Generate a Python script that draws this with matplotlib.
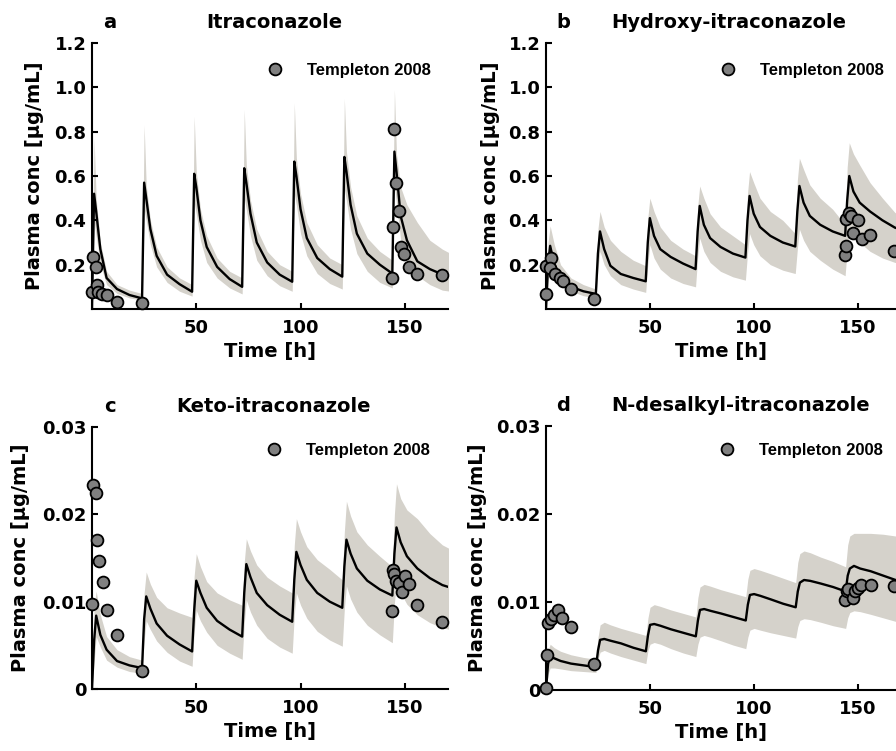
import matplotlib
matplotlib.use("Agg")
import matplotlib.pyplot as plt

plt.rcParams["font.family"] = ["DejaVu Sans"]
plt.rcParams["font.weight"] = "bold"
plt.rcParams["axes.labelweight"] = "bold"

# simulated time grid [h], dosing every 24 h
t_sim = [0, 1, 2, 4, 7, 12, 18,
         24, 25, 26, 28, 31, 36, 42,
         48, 49, 50, 52, 55, 60, 66,
         72, 73, 74, 76, 79, 84, 90,
         96, 97, 98, 100, 103, 108, 114,
         120, 121, 122, 124, 127, 132, 138,
         144, 145, 146, 148, 151, 156, 162, 168, 172]

# a: itraconazole
itra_mean = [0, 0.52, 0.44, 0.27, 0.14, 0.09, 0.063,
             0.048, 0.57, 0.50, 0.36, 0.24, 0.155, 0.112,
             0.078, 0.61, 0.55, 0.40, 0.28, 0.19, 0.135,
             0.10, 0.635, 0.57, 0.43, 0.30, 0.21, 0.155,
             0.123, 0.665, 0.60, 0.45, 0.32, 0.23, 0.18,
             0.146, 0.686, 0.62, 0.47, 0.34, 0.25, 0.20,
             0.16, 0.71, 0.62, 0.42, 0.31, 0.215, 0.18, 0.156, 0.145]
itra_upper = [0, 0.77, 0.50, 0.30, 0.17, 0.11, 0.085,
              0.07, 0.83, 0.56, 0.40, 0.28, 0.19, 0.14,
              0.11, 0.87, 0.62, 0.45, 0.33, 0.23, 0.17,
              0.14, 0.90, 0.65, 0.49, 0.36, 0.26, 0.20,
              0.17, 0.93, 0.68, 0.52, 0.39, 0.29, 0.23,
              0.20, 0.95, 0.71, 0.55, 0.42, 0.32, 0.26,
              0.22, 0.99, 0.70, 0.55, 0.47, 0.39, 0.31, 0.27, 0.25]
itra_lower = [0, 0.40, 0.33, 0.20, 0.11, 0.07, 0.05,
              0.04, 0.45, 0.40, 0.29, 0.19, 0.12, 0.08,
              0.058, 0.48, 0.43, 0.31, 0.21, 0.14, 0.095,
              0.068, 0.50, 0.45, 0.33, 0.22, 0.15, 0.105,
              0.08, 0.52, 0.47, 0.34, 0.24, 0.16, 0.115,
              0.09, 0.54, 0.49, 0.36, 0.25, 0.17, 0.12,
              0.095, 0.56, 0.48, 0.31, 0.22, 0.15, 0.11, 0.085, 0.08]
itra_obs_t = [0, 0.5, 2, 2.5, 3, 5, 7, 12, 24,
              144, 144.5, 145, 146, 147, 148, 149.5, 152, 156, 168]
itra_obs = [0.078, 0.233, 0.188, 0.108, 0.075, 0.068, 0.062, 0.033, 0.027,
            0.14, 0.37, 0.81, 0.57, 0.44, 0.28, 0.25, 0.19, 0.16, 0.153]

# b: hydroxy-itraconazole
oh_mean = [0, 0.20, 0.285, 0.20, 0.15, 0.10, 0.08,
           0.068, 0.25, 0.35, 0.27, 0.195, 0.158, 0.14,
           0.125, 0.30, 0.41, 0.33, 0.27, 0.235, 0.205,
           0.18, 0.35, 0.465, 0.38, 0.32, 0.28, 0.25,
           0.232, 0.40, 0.51, 0.43, 0.37, 0.33, 0.30,
           0.282, 0.44, 0.555, 0.48, 0.42, 0.38, 0.35,
           0.33, 0.49, 0.60, 0.53, 0.48, 0.44, 0.40, 0.367, 0.355]
oh_upper = [0, 0.30, 0.375, 0.29, 0.20, 0.14, 0.11,
            0.09, 0.36, 0.44, 0.37, 0.31, 0.26, 0.22,
            0.195, 0.41, 0.50, 0.44, 0.37, 0.31, 0.27,
            0.24, 0.46, 0.555, 0.50, 0.43, 0.37, 0.33,
            0.29, 0.52, 0.62, 0.57, 0.50, 0.44, 0.40,
            0.34, 0.58, 0.68, 0.63, 0.56, 0.50, 0.45,
            0.38, 0.64, 0.75, 0.70, 0.65, 0.57, 0.50, 0.435, 0.42]
oh_lower = [0, 0.12, 0.20, 0.15, 0.11, 0.08, 0.06,
            0.05, 0.18, 0.26, 0.20, 0.15, 0.11, 0.09,
            0.075, 0.20, 0.29, 0.23, 0.18, 0.14, 0.115,
            0.10, 0.23, 0.32, 0.26, 0.21, 0.17, 0.145,
            0.13, 0.25, 0.34, 0.29, 0.24, 0.20, 0.175,
            0.16, 0.27, 0.36, 0.31, 0.26, 0.22, 0.18,
            0.15, 0.27, 0.34, 0.33, 0.30, 0.26, 0.23, 0.21, 0.205]
oh_obs_t = [0, 0.2, 2.4, 1.9, 4.3, 6.7, 8, 12, 23.1,
            144, 144.5, 144.5, 146, 147, 148, 150, 152, 156, 167.5]
oh_obs = [0.067, 0.195, 0.232, 0.187, 0.157, 0.142, 0.127, 0.09, 0.045,
          0.245, 0.285, 0.405, 0.435, 0.42, 0.345, 0.40, 0.315, 0.335, 0.26]

# c: keto-itraconazole
keto_mean = [0, 0.0055, 0.0084, 0.0062, 0.0045, 0.0032, 0.0027,
             0.0024, 0.008, 0.0106, 0.0092, 0.0075, 0.0061, 0.0051,
             0.0043, 0.009, 0.0124, 0.011, 0.0093, 0.0078, 0.0068,
             0.006, 0.011, 0.0143, 0.0128, 0.011, 0.0096, 0.0085,
             0.0077, 0.0125, 0.0157, 0.0142, 0.0125, 0.011, 0.0100,
             0.0093, 0.014, 0.0171, 0.0155, 0.0138, 0.0124, 0.0114,
             0.0107, 0.0155, 0.0185, 0.0168, 0.0152, 0.0138, 0.0127, 0.0119, 0.0116]
keto_upper = [0, 0.0095, 0.0112, 0.0085, 0.006, 0.0045, 0.0037,
              0.0033, 0.011, 0.0134, 0.012, 0.0105, 0.0093, 0.0087,
              0.0082, 0.013, 0.0155, 0.014, 0.0123, 0.011, 0.0102,
              0.0096, 0.0145, 0.0172, 0.0158, 0.0142, 0.0128, 0.0118,
              0.011, 0.0165, 0.0195, 0.018, 0.0163, 0.0148, 0.0137,
              0.0125, 0.018, 0.0215, 0.0198, 0.018, 0.0165, 0.0152,
              0.014, 0.020, 0.0235, 0.0218, 0.0205, 0.0195, 0.0178, 0.0165, 0.016]
keto_lower = [0, 0.003, 0.006, 0.0048, 0.0033, 0.0025, 0.002,
              0.0018, 0.0055, 0.0078, 0.0068, 0.0055, 0.0042, 0.0032,
              0.0026, 0.0065, 0.009, 0.0078, 0.0065, 0.005, 0.0041,
              0.0034, 0.0075, 0.0102, 0.0088, 0.0073, 0.0058, 0.0048,
              0.0041, 0.0085, 0.011, 0.0096, 0.0081, 0.0066, 0.0056,
              0.0049, 0.0092, 0.0118, 0.0103, 0.0088, 0.0073, 0.0062,
              0.0053, 0.0098, 0.0125, 0.011, 0.0097, 0.0085, 0.0076, 0.007, 0.0068]
keto_obs_t = [0, 0.5, 2, 2.5, 3.5, 5.5, 7, 12, 24,
              144, 144.3, 145, 146, 147, 148.5, 150, 152, 156, 168]
keto_obs = [0.0097, 0.0234, 0.0225, 0.0171, 0.0146, 0.0122, 0.0091, 0.0062, 0.0021,
            0.0089, 0.0136, 0.0132, 0.0124, 0.0121, 0.0111, 0.0129, 0.0120, 0.0096, 0.0077]

# d: N-desalkyl-itraconazole
nd_mean = [0, 0.003, 0.0038, 0.0036, 0.0033, 0.003, 0.0028,
           0.0026, 0.0045, 0.0057, 0.0058, 0.0056, 0.0053, 0.0048,
           0.0044, 0.0062, 0.0074, 0.0075, 0.0073, 0.0069, 0.0065,
           0.0061, 0.0079, 0.0091, 0.0092, 0.009, 0.0087, 0.0083,
           0.0079, 0.0097, 0.0108, 0.0109, 0.0107, 0.0103, 0.0098,
           0.0094, 0.0112, 0.0122, 0.0125, 0.0124, 0.0121, 0.0117,
           0.0112, 0.013, 0.0138, 0.0141, 0.0138, 0.0135, 0.013, 0.0125, 0.0123]
nd_upper = [0, 0.0045, 0.0052, 0.0048, 0.0044, 0.004, 0.0037,
            0.0035, 0.006, 0.0074, 0.0077, 0.0074, 0.007, 0.0066,
            0.0062, 0.0082, 0.0094, 0.0097, 0.0095, 0.0091, 0.0087,
            0.0083, 0.0105, 0.0117, 0.012, 0.0118, 0.0114, 0.011,
            0.0106, 0.0126, 0.0136, 0.0138, 0.0136, 0.0132, 0.0127,
            0.0122, 0.0145, 0.0155, 0.0158, 0.0156, 0.0151, 0.0146,
            0.014, 0.0165, 0.0175, 0.0178, 0.0178, 0.0178, 0.0177, 0.0175, 0.0174]
nd_lower = [0, 0.0018, 0.0025, 0.0025, 0.0024, 0.0022, 0.0021,
            0.002, 0.0035, 0.0043, 0.0045, 0.0042, 0.0038, 0.0034,
            0.003, 0.0045, 0.0052, 0.0054, 0.0052, 0.0047, 0.0042,
            0.0038, 0.0052, 0.006, 0.0062, 0.006, 0.0056, 0.0051,
            0.0047, 0.006, 0.0068, 0.007, 0.0068, 0.0065, 0.0062,
            0.0059, 0.0072, 0.0079, 0.0081, 0.008, 0.0077, 0.0073,
            0.007, 0.0082, 0.0088, 0.009, 0.0089, 0.0086, 0.0082, 0.0078, 0.0077]
nd_obs_t = [0, 0.3, 1.1, 2.4, 4, 5.6, 7.5, 12, 23.1,
            143.5, 144.5, 145, 147.5, 148.5, 150, 151.5, 156, 167]
nd_obs = [0.0002, 0.004, 0.0076, 0.0081, 0.0085, 0.0091, 0.0082, 0.0072, 0.003,
          0.0102, 0.0113, 0.0115, 0.0104, 0.0113, 0.0116, 0.0119, 0.0119, 0.0118]

titles = ["Itraconazole", "Hydroxy-itraconazole", "Keto-itraconazole", "N-desalkyl-itraconazole"]
letters = ["a", "b", "c", "d"]
ytick_big = [0.2, 0.4, 0.6, 0.8, 1.0, 1.2]
ytick_big_labels = ["0.2", "0.4", "0.6", "0.8", "1.0", "1.2"]
ytick_small = [0, 0.01, 0.02, 0.03]
ytick_small_labels = ["0", "0.01", "0.02", "0.03"]
xtick_vals = [50, 100, 150]

band_color = "#d5d2cb"
marker_face = "#808080"

W, H = 896, 751
fig = plt.figure(figsize=(W / 100, H / 100), dpi=100)

# pixel boxes (left, top, right, bottom) of the four axes
boxes = [(92, 43, 448, 309), (546, 43, 896, 309), (92, 427, 448, 689), (546, 426, 896, 690)]
xmax = [170.7, 168.5, 170.7, 168.2]
ylab_x = [-0.135, -0.132, -0.175, -0.17]
title_x = [0.513, 0.523, 0.51, 0.557]
leg_x = [0.491, 0.496, 0.489, 0.494]
leg_y = [0.898, 0.898, 0.91, 0.906]

data = [(itra_mean, itra_upper, itra_lower, itra_obs_t, itra_obs),
        (oh_mean, oh_upper, oh_lower, oh_obs_t, oh_obs),
        (keto_mean, keto_upper, keto_lower, keto_obs_t, keto_obs),
        (nd_mean, nd_upper, nd_lower, nd_obs_t, nd_obs)]

for i, (mean, upper, lower, obs_t, obs) in enumerate(data):
    l, t, r, b = boxes[i]
    ax = fig.add_axes([l / W, (H - b) / H, (r - l) / W, (b - t) / H])
    ax.fill_between(t_sim, lower, upper, color=band_color, linewidth=0, zorder=1)
    ax.plot(t_sim, mean, color="black", linewidth=1.7, zorder=2)
    ax.plot(obs_t, obs, "o", linestyle="none", markersize=8.5, markerfacecolor=marker_face,
            markeredgecolor="black", markeredgewidth=1.3, clip_on=False, zorder=3,
            label="Templeton 2008")

    ax.set_xlim(0, xmax[i])
    if i < 2:
        ax.set_ylim(0, 1.2)
        ax.set_yticks(ytick_big)
        ax.set_yticklabels(ytick_big_labels)
    else:
        ax.set_ylim(0, 0.03)
        ax.set_yticks(ytick_small)
        ax.set_yticklabels(ytick_small_labels)
    ax.set_xticks(xtick_vals)
    ax.set_xticklabels([str(v) for v in xtick_vals])

    for s in ["top", "right"]:
        ax.spines[s].set_visible(False)
    for s in ["left", "bottom"]:
        ax.spines[s].set_linewidth(1.5)
    ax.tick_params(direction="in", length=4, width=1.5, labelsize=13)
    ax.tick_params(axis="x", pad=7)
    ax.tick_params(axis="y", pad=4)

    ax.set_ylabel("Plasma conc [µg/mL]", fontsize=14)
    ax.yaxis.set_label_coords(ylab_x[i], 0.5)
    ax.set_xlabel("Time [h]", fontsize=14)
    ax.xaxis.set_label_coords(0.5, -0.125)

    ax.text(0.05, 1.058, letters[i], transform=ax.transAxes, ha="center", va="baseline",
            fontsize=14)
    ax.text(title_x[i], 1.058, titles[i], transform=ax.transAxes, ha="center",
            va="baseline", fontsize=14)

    ax.legend(loc="center left", bbox_to_anchor=(leg_x[i], leg_y[i]), frameon=False,
              prop={"family": "Liberation Sans", "weight": "bold", "size": 12},
              borderpad=0, borderaxespad=0, handlelength=1.0,
              handletextpad=1.4, numpoints=1)

fig.savefig("out.png", dpi=100)
